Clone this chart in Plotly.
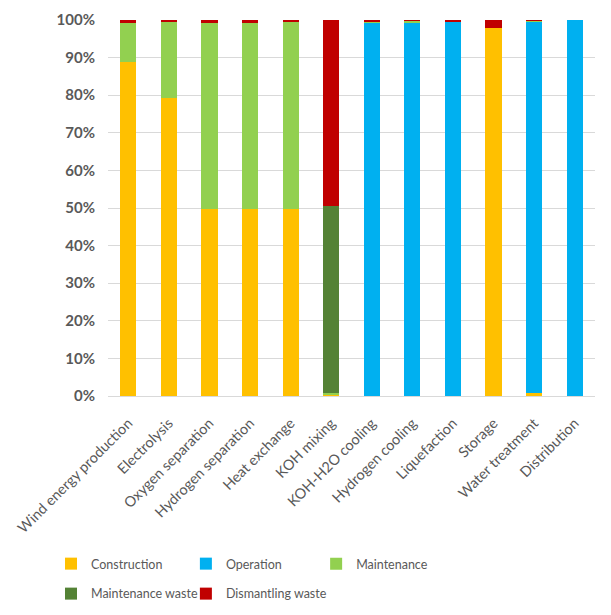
import plotly.graph_objects as go

categories = ["Wind energy production", "Electrolysis", "Oxygen separation",
              "Hydrogen separation", "Heat exchange", "KOH mixing",
              "KOH-H2O cooling", "Hydrogen cooling", "Liquefaction",
              "Storage", "Water treatment", "Distribution"]

construction      = [0.889, 0.793, 0.497, 0.497, 0.498, 0.005, 0.0,   0.0,   0.0,   0.978, 0.008, 0.0]
operation         = [0.0,   0.0,   0.0,   0.0,   0.0,   0.0,   0.993, 0.993, 0.997, 0.0,   0.989, 1.0]
maintenance       = [0.104, 0.203, 0.496, 0.496, 0.498, 0.003, 0.004, 0.005, 0.0,   0.0,   0.002, 0.0]
maintenance_waste = [0.0,   0.0,   0.0,   0.0,   0.0,   0.497, 0.0,   0.0,   0.0,   0.0,   0.0,   0.0]
dismantling_waste = [0.007, 0.004, 0.007, 0.007, 0.004, 0.495, 0.003, 0.002, 0.003, 0.022, 0.001, 0.0]

series = [
    ("Construction", construction, "#FFC000", "legend"),
    ("Operation", operation, "#00B0F0", "legend2"),
    ("Maintenance", maintenance, "#92D050", "legend3"),
    ("Maintenance waste", maintenance_waste, "#548235", "legend4"),
    ("Dismantling waste", dismantling_waste, "#C00000", "legend5"),
]

fig = go.Figure()
for name, vals, col, lg in series:
    fig.add_trace(go.Bar(x=categories, y=vals, name=name, legend=lg,
                         marker=dict(color=col, line=dict(width=0))))

FONT = "Lato"
legend_common = dict(orientation="h", xanchor="left", yanchor="middle",
                     xref="container", yref="container", itemwidth=30,
                     font=dict(family=FONT, size=12.5, color="#595959"),
                     bgcolor="rgba(0,0,0,0)")

row1, row2 = 0.084, 0.0346
fig.update_layout(
    barmode="stack", bargap=0.6,
    width=603, height=607,
    margin=dict(l=100, r=16, t=12, b=219),
    plot_bgcolor="white", paper_bgcolor="white",
    font=dict(family=FONT, size=14, color="#595959"),
    xaxis=dict(tickangle=-45, showgrid=False, showline=False, ticks="",
               automargin=False, ticklabelstandoff=15,
               tickfont=dict(family=FONT, size=14.5, color="#595959")),
    yaxis=dict(range=[0, 1], tickformat=".0%", dtick=0.1, showgrid=True,
               gridcolor="#D9D9D9", gridwidth=1, zeroline=True,
               zerolinecolor="#D9D9D9", zerolinewidth=1, showline=False, ticks="",
               automargin=False, ticklabelstandoff=12,
               tickfont=dict(family=FONT, size=15, color="#595959", weight="bold")),
    legend=dict(x=0.0713, y=row1, **legend_common),
    legend2=dict(x=0.295, y=row1, **legend_common),
    legend3=dict(x=0.511, y=row1, **legend_common),
    legend4=dict(x=0.0713, y=row2, **legend_common),
    legend5=dict(x=0.295, y=row2, **legend_common),
    showlegend=True,
)

fig.write_html("out.html")
